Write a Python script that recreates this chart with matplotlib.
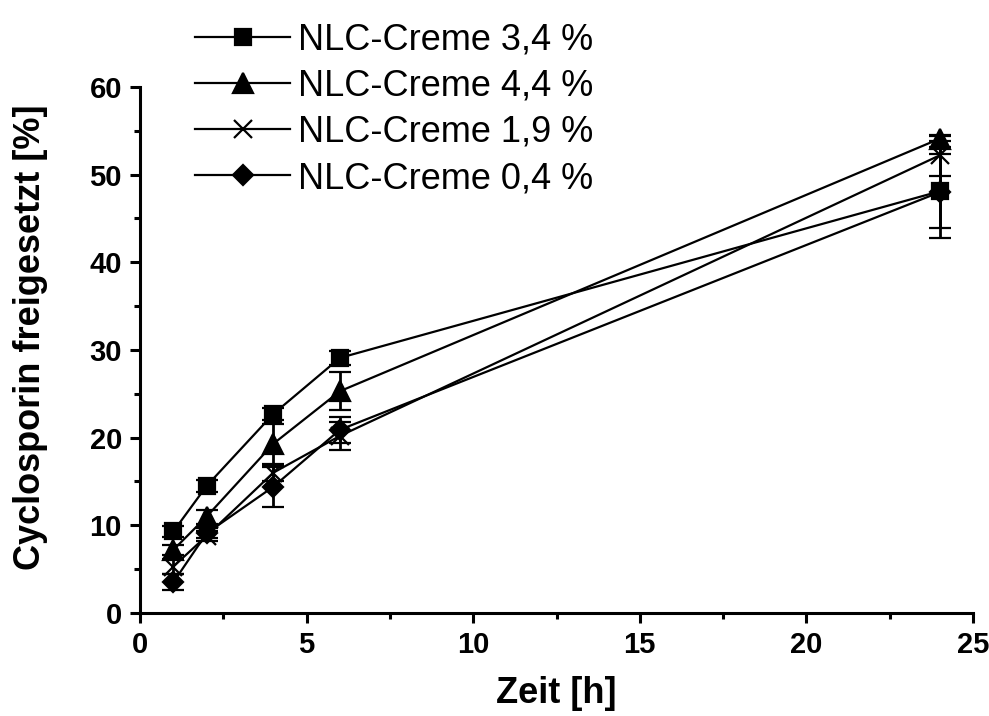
import numpy as np
import matplotlib
matplotlib.use("Agg")
import matplotlib.pyplot as plt
from matplotlib.ticker import MultipleLocator

plt.rcParams['font.family'] = ['Liberation Sans', 'DejaVu Sans']

# release time points (h)
zeit = [1, 2, 4, 6, 24]

# cyclosporin released (%) and standard deviations per cream
creme_34 = [9.3, 14.5, 22.7, 29.1, 48.1]
creme_34_sd = [0.6, 0.7, 0.7, 0.8, 4.2]
creme_44 = [7.2, 11.0, 19.3, 25.3, 54.1]
creme_44_sd = [0.6, 0.8, 2.3, 2.2, 0.3]
creme_19 = [5.3, 8.8, 16.0, 20.2, 52.2]
creme_19_sd = [0.8, 0.6, 0.9, 1.6, 2.3]
creme_04 = [3.5, 9.1, 14.4, 20.9, 48.0]
creme_04_sd = [0.9, 0.6, 2.3, 1.5, 5.2]

labels = ["NLC-Creme 3,4 %", "NLC-Creme 4,4 %", "NLC-Creme 1,9 %", "NLC-Creme 0,4 %"]

fig = plt.figure(figsize=(9.89, 7.16), dpi=100)
ax = fig.add_axes([0.1416, 0.1439, 0.8422, 0.7346])

series = [
    (creme_34, creme_34_sd, 's', 12),
    (creme_44, creme_44_sd, '^', 14),
    (creme_19, creme_19_sd, 'x', 12.5),
    (creme_04, creme_04_sd, 'D', 10.5),
]

for (y, sd, m, ms), lab in zip(series, labels):
    ax.errorbar(zeit, y, yerr=sd, color='black', lw=1.6, marker=m, ms=ms,
                mew=1.6, capsize=8, capthick=2, elinewidth=2, label=lab)

ax.set_xlim(0, 25)
ax.set_ylim(0, 60)
ax.xaxis.set_major_locator(MultipleLocator(5))
ax.xaxis.set_minor_locator(MultipleLocator(2.5))
ax.yaxis.set_major_locator(MultipleLocator(10))
ax.yaxis.set_minor_locator(MultipleLocator(5))

for side in ['top', 'right']:
    ax.spines[side].set_visible(False)
for side in ['left', 'bottom']:
    ax.spines[side].set_linewidth(2.2)

ax.tick_params(which='major', direction='out', length=7, width=2.2, labelsize=21, pad=6)
ax.tick_params(which='minor', direction='out', length=4, width=2.2)
for t in ax.get_xticklabels() + ax.get_yticklabels():
    t.set_fontweight('bold')

ax.set_xlabel("Zeit [h]", fontsize=26, fontweight='bold', labelpad=12)
ax.set_ylabel("Cyclosporin freigesetzt [%]", fontsize=26, fontweight='bold')
ax.yaxis.set_label_coords(-0.110, 0.525)

handles, lbls = ax.get_legend_handles_labels()
handles = [h[0] for h in handles]
leg = fig.legend(handles, lbls, loc='upper left', bbox_to_anchor=(195 / 989, 1 - 22.5 / 716),
                 frameon=False, fontsize=26, handlelength=2.64, handletextpad=0.22,
                 labelspacing=0.31, borderpad=0, borderaxespad=0)

fig.savefig("out.png", dpi=100)
